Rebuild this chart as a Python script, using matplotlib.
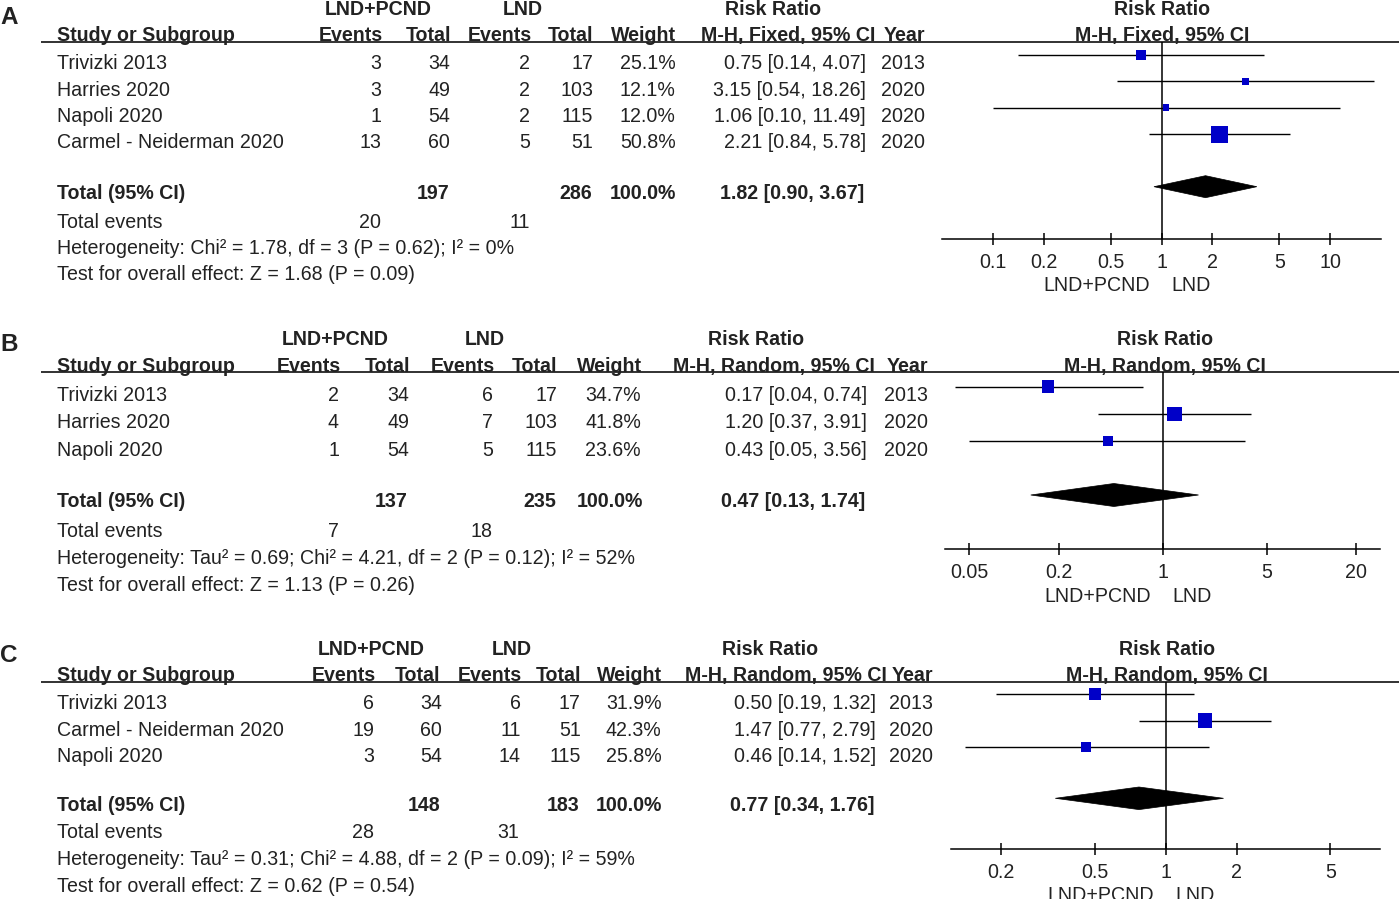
import matplotlib
matplotlib.use('Agg')
import matplotlib.pyplot as plt
from matplotlib.patches import Polygon

# ---------------- DATA ----------------
# Panel A
a_studies = ["Trivizki 2013", "Harries 2020", "Napoli 2020", "Carmel - Neiderman 2020"]
a_ev1 = [3, 3, 1, 13]
a_n1 = [34, 49, 54, 60]
a_ev2 = [2, 2, 2, 5]
a_n2 = [17, 103, 115, 51]
a_weight = [25.1, 12.1, 12.0, 50.8]
a_rr = [0.75, 3.15, 1.06, 2.21]
a_lo = [0.14, 0.54, 0.10, 0.84]
a_hi = [4.07, 18.26, 11.49, 5.78]
a_year = [2013, 2020, 2020, 2020]
a_tot_n = [197, 286]
a_tot_ev = [20, 11]
a_pooled = [1.82, 0.90, 3.67]
a_het = "Heterogeneity: Chi\u00b2 = 1.78, df = 3 (P = 0.62); I\u00b2 = 0%"
a_test = "Test for overall effect: Z = 1.68 (P = 0.09)"
a_method = "M-H, Fixed, 95% CI"
a_ticks = [0.1, 0.2, 0.5, 1, 2, 5, 10]
a_ticklabels = ["0.1", "0.2", "0.5", "1", "2", "5", "10"]

# Panel B
b_studies = ["Trivizki 2013", "Harries 2020", "Napoli 2020"]
b_ev1 = [2, 4, 1]
b_n1 = [34, 49, 54]
b_ev2 = [6, 7, 5]
b_n2 = [17, 103, 115]
b_weight = [34.7, 41.8, 23.6]
b_rr = [0.17, 1.20, 0.43]
b_lo = [0.04, 0.37, 0.05]
b_hi = [0.74, 3.91, 3.56]
b_year = [2013, 2020, 2020]
b_tot_n = [137, 235]
b_tot_ev = [7, 18]
b_pooled = [0.47, 0.13, 1.74]
b_het = "Heterogeneity: Tau\u00b2 = 0.69; Chi\u00b2 = 4.21, df = 2 (P = 0.12); I\u00b2 = 52%"
b_test = "Test for overall effect: Z = 1.13 (P = 0.26)"
b_method = "M-H, Random, 95% CI"
b_ticks = [0.05, 0.2, 1, 5, 20]
b_ticklabels = ["0.05", "0.2", "1", "5", "20"]

# Panel C
c_studies = ["Trivizki 2013", "Carmel - Neiderman 2020", "Napoli 2020"]
c_ev1 = [6, 19, 3]
c_n1 = [34, 60, 54]
c_ev2 = [6, 11, 14]
c_n2 = [17, 51, 115]
c_weight = [31.9, 42.3, 25.8]
c_rr = [0.50, 1.47, 0.46]
c_lo = [0.19, 0.77, 0.14]
c_hi = [1.32, 2.79, 1.52]
c_year = [2013, 2020, 2020]
c_tot_n = [148, 183]
c_tot_ev = [28, 31]
c_pooled = [0.77, 0.34, 1.76]
c_het = "Heterogeneity: Tau\u00b2 = 0.31; Chi\u00b2 = 4.88, df = 2 (P = 0.09); I\u00b2 = 59%"
c_test = "Test for overall effect: Z = 0.62 (P = 0.54)"
c_method = "M-H, Random, 95% CI"
c_ticks = [0.2, 0.5, 1, 2, 5]
c_ticklabels = ["0.2", "0.5", "1", "2", "5"]

group1 = "LND+PCND"
group2 = "LND"
total_weight = "100.0%"

# ---------------- STYLE / LAYOUT ----------------
W, H = 1399, 899
plt.rcParams['font.family'] = ['Liberation Sans', 'DejaVu Sans']
FS = 14.1
TXT = '#222222'
BLUE = '#0000C8'

fig = plt.figure(figsize=(W / 100, H / 100), dpi=100)
tax = fig.add_axes([0, 0, 1, 1])
tax.set_xlim(0, W)
tax.set_ylim(H, 0)
tax.axis('off')


def T(x, y, s, ha='left', bold=False, size=FS):
    tax.text(x, y, s, ha=ha, va='baseline', fontsize=size,
             fontweight='bold' if bold else 'normal', color=TXT)


layouts = {
    'A': dict(letter=24, hdr1=15, hdr2=40.7, line=42, row0=69.3, step=26.33,
              total=199.3, ev=227.5, het=254, test=280.5,
              hdr_r=[383, 451, 532, 593, 676, 875, 925],
              val_r=[381, 450, 530.5, 593, 675.5, 866, 925],
              tot_r=[449, 592, 676, 864], ev_r=[381, 530],
              grp_c=[378, 523, 773],
              c=1161.7, dec=168.5, half=1.301, axis=239, frow0=55, fstep=26.4,
              diam=186.7, dh=11, rr_c=1162, tick_base=266.7, fav=290.7),
    'B': dict(letter=350.7, hdr1=345, hdr2=371.7, line=372.3, row0=401, step=27.35,
              total=507.3, ev=536.7, het=564.3, test=591,
              hdr_r=[340.7, 410, 495, 557.7, 641.7, 875, 928],
              val_r=[339, 409, 493, 557, 641, 866.7, 928],
              tot_r=[407.3, 556, 643, 865], ev_r=[339, 493],
              grp_c=[335.7, 485, 756],
              c=1162.7, dec=148.9, half=1.459, axis=549.3, frow0=386.7, fstep=27,
              diam=495, dh=11.5, rr_c=1165, tick_base=577.3, fav=601.7),
    'C': dict(letter=661.7, hdr1=655, hdr2=681, line=681.7, row0=709.3, step=26.2,
              total=810.7, ev=838, het=865, test=892.3,
              hdr_r=[375.7, 440.7, 522.3, 581.7, 662.3, 886.7, 933.3],
              val_r=[374, 441.7, 520.7, 580.7, 661.7, 876, 933],
              tot_r=[440, 579.3, 662, 874.7], ev_r=[374, 519.3],
              grp_c=[371, 512.3, 770],
              c=1165.7, dec=235.6, half=0.911, axis=849.3, frow0=694.3, fstep=26.2,
              diam=798.3, dh=11.3, rr_c=1166.7, tick_base=876.7, fav=901),
}


def panel(letter, L, studies, ev1, n1, ev2, n2, wt, rr, lo, hi, yr,
          tot_n, tot_ev, pooled, het, test, method, ticks, ticklabels):
    # panel letter
    T(0, L['letter'], letter, bold=True, size=17.5)
    # group headers
    T(L['grp_c'][0], L['hdr1'], group1, ha='center', bold=True)
    T(L['grp_c'][1], L['hdr1'], group2, ha='center', bold=True)
    T(L['grp_c'][2], L['hdr1'], "Risk Ratio", ha='center', bold=True)
    T(L['rr_c'], L['hdr1'], "Risk Ratio", ha='center', bold=True)
    # column headers
    T(57, L['hdr2'], "Study or Subgroup", bold=True)
    for x, s in zip(L['hdr_r'], ["Events", "Total", "Events", "Total", "Weight", method, "Year"]):
        T(x, L['hdr2'], s, ha='right', bold=True)
    T(L['rr_c'], L['hdr2'], method, ha='center', bold=True)
    tax.plot([41, W], [L['line'], L['line']], color=TXT, lw=1.3, solid_capstyle='butt')
    # study rows
    vr = L['val_r']
    for i, s in enumerate(studies):
        y = L['row0'] + i * L['step']
        T(57, y, s)
        T(vr[0], y, f"{ev1[i]}", ha='right')
        T(vr[1], y, f"{n1[i]}", ha='right')
        T(vr[2], y, f"{ev2[i]}", ha='right')
        T(vr[3], y, f"{n2[i]}", ha='right')
        T(vr[4], y, f"{wt[i]:.1f}%", ha='right')
        T(vr[5], y, f"{rr[i]:.2f} [{lo[i]:.2f}, {hi[i]:.2f}]", ha='right')
        T(vr[6], y, f"{yr[i]}", ha='right')
    # total row
    tr = L['tot_r']
    T(57, L['total'], "Total (95% CI)", bold=True)
    T(tr[0], L['total'], f"{tot_n[0]}", ha='right', bold=True)
    T(tr[1], L['total'], f"{tot_n[1]}", ha='right', bold=True)
    T(tr[2], L['total'], total_weight, ha='right', bold=True)
    T(tr[3], L['total'], f"{pooled[0]:.2f} [{pooled[1]:.2f}, {pooled[2]:.2f}]", ha='right', bold=True)
    T(57, L['ev'], "Total events")
    T(L['ev_r'][0], L['ev'], f"{tot_ev[0]}", ha='right')
    T(L['ev_r'][1], L['ev'], f"{tot_ev[1]}", ha='right')
    T(57, L['het'], het)
    T(57, L['test'], test)

    # forest axes
    x0 = L['c'] - L['dec'] * L['half']
    x1 = L['c'] + L['dec'] * L['half']
    top, bot = L['line'], L['axis']
    ax = fig.add_axes([x0 / W, 1 - bot / H, (x1 - x0) / W, (bot - top) / H])
    ax.set_xscale('log')
    ax.set_xlim(10 ** -L['half'], 10 ** L['half'])
    ax.set_ylim(bot, top)
    ax.patch.set_alpha(0)
    for sp in ['top', 'left', 'right']:
        ax.spines[sp].set_visible(False)
    ax.spines['bottom'].set_linewidth(1.1)
    ax.set_yticks([])
    ax.set_xticks(ticks)
    ax.set_xticklabels(ticklabels)
    ax.minorticks_off()
    ax.tick_params(axis='x', direction='inout', length=8, width=1.1,
                   labelsize=FS, pad=6, labelcolor=TXT)
    ax.axvline(1, color='black', lw=1.1)
    ys = [L['frow0'] + i * L['fstep'] for i in range(len(rr))]
    ax.hlines(ys, lo, hi, color='black', lw=1.0)
    sides_pt = [(3.6 + 0.257 * w) * 0.72 for w in wt]
    ax.scatter(rr, ys, marker='s', s=[sp_ ** 2 for sp_ in sides_pt], color=BLUE,
               linewidths=0, zorder=3)
    yc, h = L['diam'], L['dh']
    ax.add_patch(Polygon([(pooled[1], yc), (pooled[0], yc - h), (pooled[2], yc), (pooled[0], yc + h)],
                         closed=True, facecolor='black', edgecolor='black', lw=0.5))
    # favours labels
    T(L['c'] - 12, L['fav'], group1, ha='right')
    T(L['c'] + 9.5, L['fav'], group2, ha='left')


panel('A', layouts['A'], a_studies, a_ev1, a_n1, a_ev2, a_n2, a_weight, a_rr, a_lo, a_hi, a_year,
      a_tot_n, a_tot_ev, a_pooled, a_het, a_test, a_method, a_ticks, a_ticklabels)
panel('B', layouts['B'], b_studies, b_ev1, b_n1, b_ev2, b_n2, b_weight, b_rr, b_lo, b_hi, b_year,
      b_tot_n, b_tot_ev, b_pooled, b_het, b_test, b_method, b_ticks, b_ticklabels)
panel('C', layouts['C'], c_studies, c_ev1, c_n1, c_ev2, c_n2, c_weight, c_rr, c_lo, c_hi, c_year,
      c_tot_n, c_tot_ev, c_pooled, c_het, c_test, c_method, c_ticks, c_ticklabels)

fig.savefig('out.png', dpi=100)
